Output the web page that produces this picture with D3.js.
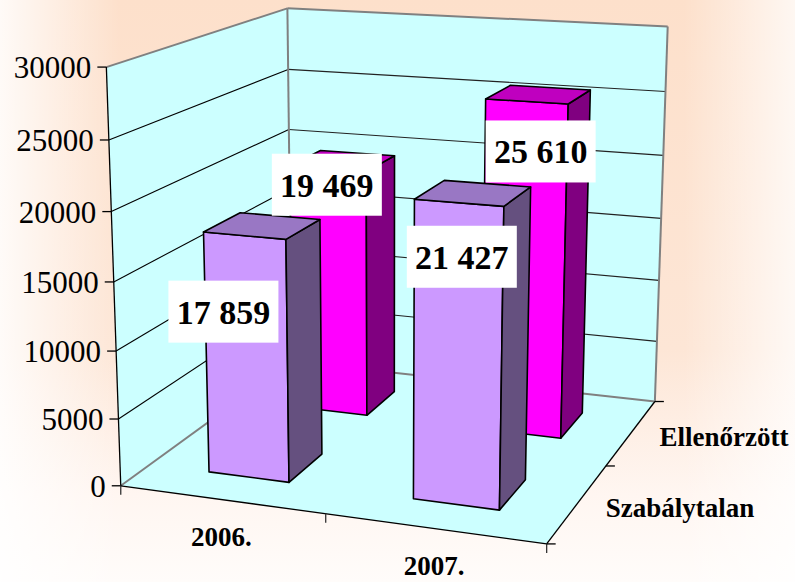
<!DOCTYPE html>
<html>
<head>
<meta charset="utf-8">
<script src="https://cdn.jsdelivr.net/npm/d3@7"></script>
<style>
  body { margin: 0; background: #fff; }
  svg text { font-family: "Liberation Serif", "Times New Roman", serif; }
</style>
</head>
<body>
<script>
// data
var categories = ["2006.", "2007."];
var series = ["Szabálytalan", "Ellenőrzött"];   // front row first
var szabalytalan = [17859, 21427];
var ellenorzott = [19469, 25610];
var values = { "Szabálytalan": szabalytalan, "Ellenőrzött": ellenorzott };
var yMax = 30000;

// styles
var faceColors = {
    "Szabálytalan": { front: "#CC99FF", top: "#9977C4", side: "#65507F" },
    "Ellenőrzött":  { front: "#FF00FF", top: "#BF00BF", side: "#800080" }
};
// manual nudges of the value boxes (pixels, from bar top centre)
var labelNudge = {
    "Szabálytalan": [[-21, 76], [3, 54]],
    "Ellenőrzött":  [[-1, 16], [14, 50]]
};

var width = 795, height = 582;

var svg = d3.select("body").append("svg")
    .attr("width", width)
    .attr("height", height);

// background gradients
var defs = svg.append("defs");
var bgV = defs.append("linearGradient").attr("id", "bgV")
    .attr("x1", 0).attr("y1", 0).attr("x2", 0).attr("y2", 1);
bgV.append("stop").attr("offset", "0").attr("stop-color", "#FDE0CB");
bgV.append("stop").attr("offset", "0.6").attr("stop-color", "#FDE6D6");
bgV.append("stop").attr("offset", "0.85").attr("stop-color", "#FFF6F1");
bgV.append("stop").attr("offset", "1").attr("stop-color", "#FFFCFA");
var bgH = defs.append("linearGradient").attr("id", "bgH")
    .attr("x1", 0).attr("y1", 0).attr("x2", 1).attr("y2", 0);
bgH.append("stop").attr("offset", "0").attr("stop-color", "#fff").attr("stop-opacity", 0.85);
bgH.append("stop").attr("offset", "0.15").attr("stop-color", "#fff").attr("stop-opacity", 0);
bgH.append("stop").attr("offset", "0.86").attr("stop-color", "#fff").attr("stop-opacity", 0);
bgH.append("stop").attr("offset", "1").attr("stop-color", "#fff").attr("stop-opacity", 0.75);

svg.append("rect").attr("width", width).attr("height", height).attr("fill", "url(#bgV)");
svg.append("rect").attr("width", width).attr("height", height).attr("fill", "url(#bgH)");

// camera: fit a perspective projection to the corners of the chart box
// (x = category axis, y = value axis, z = series depth, all 0..1)
var calib = [
    [0, 0, 0, 122, 485], [0, 1, 0, 106, 67], [0, 0.5, 0, 113, 282],
    [1, 0, 0, 545, 543], [0.5, 0, 0, 326, 516],
    [0, 1, 1, 288, 8], [0, 0, 1, 290, 361], [0, 5/6, 1, 289, 70],
    [1, 1, 1, 667, 26], [1, 0, 1, 655, 402], [1, 0.5, 1, 661, 219],
    [1, 0, 0.5, 608, 465]
];

function fitCamera(pts) {
    var A = [], b = [];
    pts.forEach(function(p) {
        var X = p[0], Y = p[1], Z = p[2];
        var u = (p[3] - 400) / 400, v = (p[4] - 300) / 300;
        A.push([X, Y, Z, 1, 0, 0, 0, 0, -u*X, -u*Y, -u*Z]); b.push(u);
        A.push([0, 0, 0, 0, X, Y, Z, 1, -v*X, -v*Y, -v*Z]); b.push(v);
    });
    var n = 11, M = [];
    for (var i = 0; i < n; i++) {
        M.push(new Array(n + 1).fill(0));
        for (var k = 0; k < A.length; k++) {
            for (var j = 0; j < n; j++) M[i][j] += A[k][i] * A[k][j];
            M[i][n] += A[k][i] * b[k];
        }
    }
    for (var c = 0; c < n; c++) {
        var piv = c;
        for (var r = c + 1; r < n; r++) if (Math.abs(M[r][c]) > Math.abs(M[piv][c])) piv = r;
        var tmp = M[c]; M[c] = M[piv]; M[piv] = tmp;
        for (var r2 = 0; r2 < n; r2++) {
            if (r2 === c) continue;
            var f = M[r2][c] / M[c][c];
            for (var j2 = c; j2 <= n; j2++) M[r2][j2] -= f * M[c][j2];
        }
    }
    return M.map(function(row, i) { return row[n] / row[i]; });
}
var cam = fitCamera(calib);

function project(X, Y, Z) {
    var w = cam[8]*X + cam[9]*Y + cam[10]*Z + 1;
    return [400 + 400 * (cam[0]*X + cam[1]*Y + cam[2]*Z + cam[3]) / w,
            300 + 300 * (cam[4]*X + cam[5]*Y + cam[6]*Z + cam[7]) / w];
}
function poly(pts) {
    return pts.map(function(p) { return project(p[0], p[1], p[2]).join(","); }).join(" ");
}

// scales
var x = d3.scaleBand().domain(categories).range([0, 1]).paddingInner(0.6).paddingOuter(0.3);
var z = d3.scaleBand().domain(series).range([0, 1]).paddingInner(0.6).paddingOuter(0.3);
var y = d3.scaleLinear().domain([0, yMax]).range([0, 1]);
var yTicks = y.ticks(6);

// walls and floor
var wallFill = "#CCFFFF";
var walls = [
    [[0,0,0],[1,0,0],[1,0,1],[0,0,1]],
    [[0,0,0],[0,1,0],[0,1,1],[0,0,1]],
    [[0,0,1],[0,1,1],[1,1,1],[1,0,1]]
];
svg.append("g").selectAll("polygon").data(walls).enter().append("polygon")
    .attr("points", function(d) { return poly(d); })
    .attr("fill", wallFill);

function line3(g, a, b, color, w) {
    var p = project(a[0], a[1], a[2]), q = project(b[0], b[1], b[2]);
    g.append("line")
        .attr("x1", p[0]).attr("y1", p[1]).attr("x2", q[0]).attr("y2", q[1])
        .attr("stroke", color).attr("stroke-width", w);
}

// gridlines
var grid = svg.append("g");
yTicks.filter(function(t) { return t > 0 && t < yMax; }).forEach(function(t) {
    line3(grid, [0, y(t), 0], [0, y(t), 1], "#000", 1.1);
    line3(grid, [0, y(t), 1], [1, y(t), 1], "#222", 1.1);
});
// box edges
var edges = svg.append("g");
line3(edges, [0,1,0], [0,1,1], "#808080", 2);
line3(edges, [0,1,1], [1,1,1], "#808080", 2);
line3(edges, [0,0,1], [0,1,1], "#808080", 2);
line3(edges, [1,0,1], [1,1,1], "#808080", 2);
line3(edges, [0,0,0], [0,0,1], "#808080", 2);
line3(edges, [0,0,1], [1,0,1], "#808080", 2);
line3(edges, [0,0,0], [0,1,0], "#000", 1.3);
line3(edges, [0,0,0], [1,0,0], "#000", 1.3);
line3(edges, [1,0,0], [1,0,1], "#000", 1.3);

// value axis ticks and labels
var yAxis = svg.append("g");
yTicks.forEach(function(t) {
    var p = project(0, y(t), 0);
    yAxis.append("line")
        .attr("x1", p[0] - 9).attr("y1", p[1]).attr("x2", p[0]).attr("y2", p[1])
        .attr("stroke", "#000").attr("stroke-width", 1.3);
    yAxis.append("text")
        .attr("x", p[0] - 15).attr("y", p[1] + 11)
        .attr("text-anchor", "end")
        .attr("font-size", 31)
        .text(String(t));
});

// category axis ticks + labels
var xAxis = svg.append("g");
[0, 0.5, 1].forEach(function(t) {
    var p = project(t, 0, 0);
    xAxis.append("line")
        .attr("x1", p[0]).attr("y1", p[1]).attr("x2", p[0]).attr("y2", p[1] + 9)
        .attr("stroke", "#333").attr("stroke-width", 1.3);
});
categories.forEach(function(c) {
    var p = project(x(c) + x.bandwidth() / 2, 0, 0);
    xAxis.append("text")
        .attr("x", p[0]).attr("y", p[1] + 46)
        .attr("text-anchor", "middle")
        .attr("font-size", 27).attr("font-weight", "bold")
        .text(c);
});

// series axis ticks + labels
var zAxis = svg.append("g");
[0, 0.5, 1].forEach(function(t) {
    var p = project(1, 0, t);
    zAxis.append("line")
        .attr("x1", p[0]).attr("y1", p[1]).attr("x2", p[0] + 9).attr("y2", p[1])
        .attr("stroke", "#000").attr("stroke-width", 1.3);
});
series.forEach(function(s) {
    var p = project(1, 0, z(s) + z.bandwidth() / 2);
    zAxis.append("text")
        .attr("x", p[0] + 28).attr("y", p[1] + 14)
        .attr("font-size", 27).attr("font-weight", "bold")
        .text(s);
});

// bars, back row first
var bars = svg.append("g");
var bw = x.bandwidth(), bd = z.bandwidth();
series.slice().reverse().forEach(function(s) {
    categories.forEach(function(c, i) {
        var x0 = x(c), x1 = x0 + bw, z0 = z(s), z1 = z0 + bd, h = y(values[s][i]);
        var faces = [
            { pts: [[x0,0,z0],[x1,0,z0],[x1,h,z0],[x0,h,z0]], fill: faceColors[s].front },
            { pts: [[x1,0,z0],[x1,0,z1],[x1,h,z1],[x1,h,z0]], fill: faceColors[s].side },
            { pts: [[x0,h,z0],[x1,h,z0],[x1,h,z1],[x0,h,z1]], fill: faceColors[s].top }
        ];
        bars.append("g").selectAll("polygon").data(faces).enter().append("polygon")
            .attr("points", function(d) { return poly(d.pts); })
            .attr("fill", function(d) { return d.fill; })
            .attr("stroke", "#000")
            .attr("stroke-width", 1.6)
            .attr("stroke-linejoin", "round");
    });
});

// value labels
var fmt = d3.formatLocale({ decimal: ",", thousands: " ", grouping: [3], currency: ["", ""] }).format(",d");
var labels = svg.append("g");
series.forEach(function(s) {
    categories.forEach(function(c, i) {
        var p = project(x(c) + bw / 2, y(values[s][i]), z(s));
        var cx = p[0] + labelNudge[s][i][0], cy = p[1] + labelNudge[s][i][1];
        labels.append("rect")
            .attr("x", cx - 55).attr("y", cy - 31)
            .attr("width", 110).attr("height", 62)
            .attr("fill", "#fff");
        labels.append("text")
            .attr("x", cx).attr("y", cy + 12)
            .attr("text-anchor", "middle")
            .attr("font-size", 34).attr("font-weight", "bold")
            .text(fmt(values[s][i]));
    });
});
</script>
</body>
</html>
